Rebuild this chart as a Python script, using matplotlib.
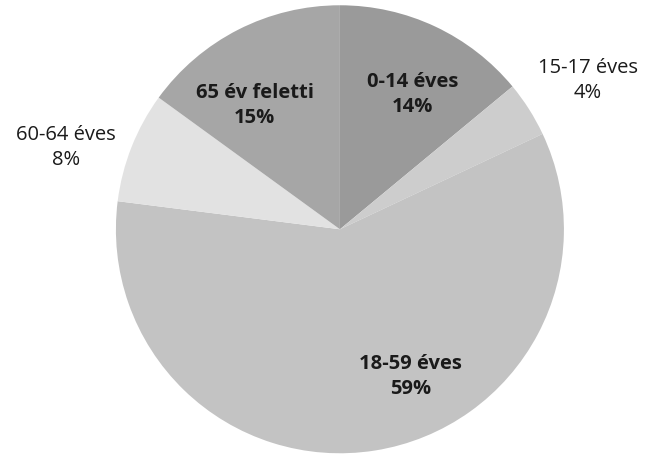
import matplotlib
matplotlib.use("Agg")

import matplotlib.pyplot as plt
import numpy as np

# data
categories = ["0-14 éves", "15-17 éves", "18-59 éves", "60-64 éves", "65 év feletti"]
shares = [14, 4, 59, 8, 15]
colors = ["#9a9a9a", "#cdcdcd", "#c3c3c3", "#e2e2e2", "#a6a6a6"]

# label layout: (radius as fraction of pie radius, angle in degrees, bold)
label_layout = [
    (0.685, 61.6, True),
    (1.29, 30.9, False),
    (0.73, -64.5, True),
    (1.275, 163.3, False),
    (0.67, 124.6, True),
]

fig = plt.figure(figsize=(6.45, 4.54), dpi=100)
ax = fig.add_axes([0.527 - 0.3473, 0.495 - 0.4934, 0.6946, 0.9868])

wedges, _ = ax.pie(
    shares,
    colors=colors,
    startangle=90,
    counterclock=False,
    radius=1.0,
    wedgeprops={"linewidth": 0},
)
ax.set_xlim(-1, 1)
ax.set_ylim(-1, 1)
ax.set_aspect("equal")

for cat, val, (r, ang, bold) in zip(categories, shares, label_layout):
    x = r * np.cos(np.radians(ang))
    y = r * np.sin(np.radians(ang))
    ax.text(x, y, f"{cat}\n{val}%", ha="center", va="center",
            fontsize=14.5, family="Open Sans",
            fontweight="bold" if bold else "normal",
            color="#1a1a1a", linespacing=1.35, clip_on=False)

fig.savefig("out.png", dpi=100)
